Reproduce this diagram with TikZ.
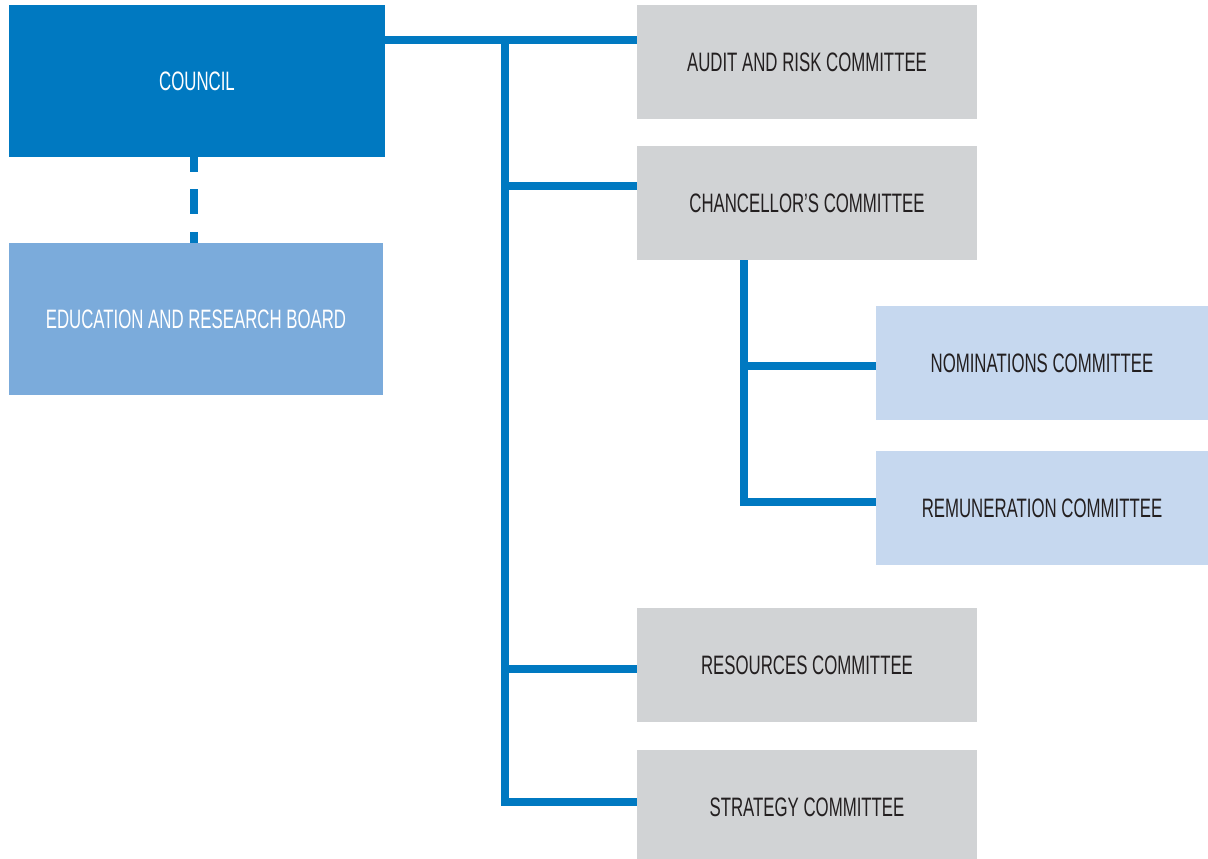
\documentclass[tikz,border=0pt]{standalone}
\usepackage{fontspec}
\setmainfont[FakeStretch=0.63]{Liberation Sans}
\definecolor{lineblue}{HTML}{0079C1}
\definecolor{councilblue}{HTML}{0079C1}
\definecolor{boardblue}{HTML}{7BABDB}
\definecolor{boxgray}{HTML}{D1D3D5}
\definecolor{subblue}{HTML}{C6D8EF}
\definecolor{txt}{HTML}{231F20}
\begin{document}
\begin{tikzpicture}[x=0.75pt,y=-0.75pt,
  box/.style={inner sep=0pt,outer sep=0pt,align=center,
    font=\fontsize{20}{24}\selectfont},
  graybox/.style={box,fill=boxgray,text=txt,minimum width=340*0.75pt,minimum height=114*0.75pt},
  subbox/.style={box,fill=subblue,text=txt,minimum width=332*0.75pt,minimum height=114*0.75pt},
  bigbox/.style={box,text=white,minimum height=152*0.75pt},
  conn/.style={draw=lineblue,line width=6pt,line join=miter}]
\useasboundingbox (0,0) rectangle (1208,858);
\node[bigbox,fill=councilblue,minimum width=376*0.75pt] (council) at (197,81) {COUNCIL};
\node[bigbox,fill=boardblue,minimum width=374*0.75pt] (board) at (196,319) {EDUCATION AND RESEARCH BOARD};
\node[graybox] (audit) at (807,62) {AUDIT AND RISK COMMITTEE};
\node[graybox] (chan) at (807,203) {CHANCELLOR’S COMMITTEE};
\node[subbox] (nom) at (1042,363) {NOMINATIONS COMMITTEE};
\node[subbox] (rem) at (1042,508) {REMUNERATION COMMITTEE};
\node[graybox] (res) at (807,665) {RESOURCES COMMITTEE};
\node[graybox] (strat) at (807,807) {STRATEGY COMMITTEE};
% trunk coordinates
\coordinate (ttop) at (505,40);
\coordinate (tchan) at (505,185.5);
\coordinate (tres) at (505,668.5);
\coordinate (tbot) at (505,802);
\coordinate (stop) at (744,260);
\coordinate (snom) at (744,366);
\coordinate (sbot) at (744,502);
\coordinate (dtop) at (194,157);
\coordinate (dbot) at (194,243);
% connectors
\draw[conn] (council.east |- ttop) -- (audit.west |- ttop);
\draw[conn] (ttop) -- (tbot) -- (strat.west |- tbot);
\draw[conn] (tchan) -- (chan.west |- tchan);
\draw[conn] (tres) -- (res.west |- tres);
\draw[conn] (chan.south -| stop) -- (sbot) -- (rem.west |- sbot);
\draw[conn] (snom) -- (nom.west |- snom);
\draw[draw=lineblue,line width=6pt,dash pattern=on 18.75pt off 13.1pt,dash phase=7.5pt]
  (council.south -| dtop) -- (board.north -| dbot);
\end{tikzpicture}
\end{document}
